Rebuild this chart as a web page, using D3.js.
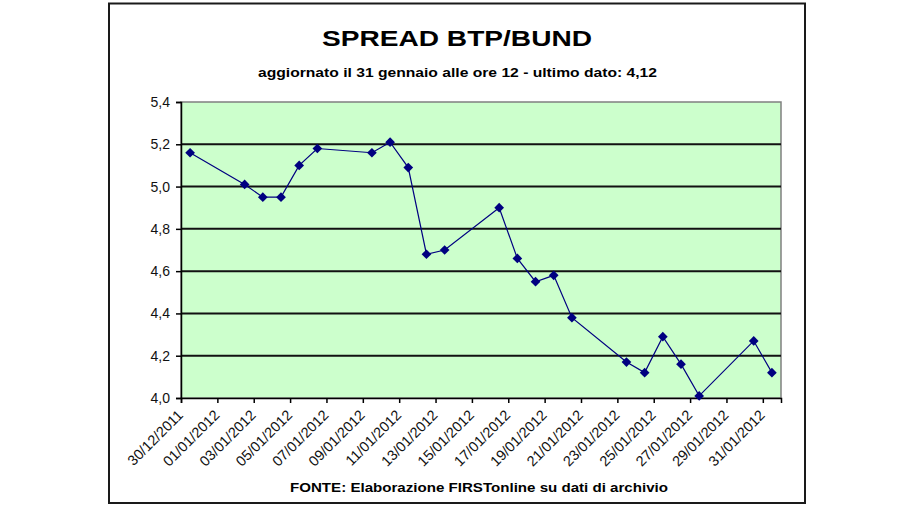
<!DOCTYPE html>
<html>
<head>
<meta charset="utf-8">
<script src="https://cdn.jsdelivr.net/npm/d3@7"></script>
<style>
  html, body { margin: 0; padding: 0; background: #ffffff; }
  svg { display: block; font-family: Arial, "Liberation Sans", sans-serif; }
</style>
</head>
<body>
<svg id="chart" width="920" height="510"></svg>
<script>
// ---- data ----
const title = "SPREAD BTP/BUND";
const subtitle = "aggiornato il 31 gennaio alle ore 12 - ultimo dato: 4,12";
const footer = "FONTE: Elaborazione FIRSTonline su dati di archivio";

const dates = ["30/12/2011","02/01/2012","03/01/2012","04/01/2012","05/01/2012","06/01/2012",
  "09/01/2012","10/01/2012","11/01/2012","12/01/2012","13/01/2012",
  "16/01/2012","17/01/2012","18/01/2012","19/01/2012","20/01/2012",
  "23/01/2012","24/01/2012","25/01/2012","26/01/2012","27/01/2012",
  "30/01/2012","31/01/2012"];
const values = [5.16, 5.01, 4.95, 4.95, 5.10, 5.18,
  5.16, 5.21, 5.09, 4.68, 4.70,
  4.90, 4.66, 4.55, 4.58, 4.38,
  4.17, 4.12, 4.29, 4.16, 4.01,
  4.27, 4.12];

const xTickLabels = ["30/12/2011","01/01/2012","03/01/2012","05/01/2012","07/01/2012","09/01/2012",
  "11/01/2012","13/01/2012","15/01/2012","17/01/2012","19/01/2012","21/01/2012",
  "23/01/2012","25/01/2012","27/01/2012","29/01/2012","31/01/2012"];
const yTicks = [4.0, 4.2, 4.4, 4.6, 4.8, 5.0, 5.2, 5.4];
const xDomain = ["30/12/2011", "01/02/2012"];
const yDomain = [4.0, 5.4];

// ---- drawing ----
const parse = d3.timeParse("%d/%m/%Y");
const svg = d3.select("#chart");

const plot = { left: 181, right: 781, top: 102, bottom: 398 };

const x = d3.scaleTime().domain(xDomain.map(parse)).range([plot.left, plot.right]);
const y = d3.scaleLinear().domain(yDomain).range([plot.bottom, plot.top]);

// outer frame
svg.append("rect").attr("x", 109).attr("y", 3.5).attr("width", 696).attr("height", 499.5)
  .attr("fill", "#ffffff").attr("stroke", "#1a1a1a").attr("stroke-width", 2);

// title texts
svg.append("text").attr("x", 322).attr("y", 46).attr("font-size", 22).attr("font-weight", "bold")
  .attr("textLength", 270).attr("lengthAdjust", "spacingAndGlyphs").attr("fill", "#000").text(title);
svg.append("text").attr("x", 258).attr("y", 77).attr("font-size", 12).attr("font-weight", "bold")
  .attr("textLength", 399).attr("lengthAdjust", "spacingAndGlyphs").attr("fill", "#000").text(subtitle);
svg.append("text").attr("x", 290).attr("y", 492).attr("font-size", 12.5).attr("font-weight", "bold")
  .attr("textLength", 378).attr("lengthAdjust", "spacingAndGlyphs").attr("fill", "#000").text(footer);

// plot area
svg.append("rect").attr("x", plot.left).attr("y", plot.top)
  .attr("width", plot.right - plot.left).attr("height", plot.bottom - plot.top)
  .attr("fill", "#ccffcc").attr("stroke", "#808080").attr("stroke-width", 1.5);

// gridlines
svg.append("g").selectAll("line").data(yTicks.filter(v => v > yDomain[0] && v < yDomain[1]))
  .join("line")
  .attr("x1", plot.left).attr("x2", plot.right)
  .attr("y1", d => y(d)).attr("y2", d => y(d))
  .attr("stroke", "#111").attr("stroke-width", 2);

// y axis
const yAxis = d3.axisLeft(y).tickValues(yTicks).tickSize(5).tickPadding(6)
  .tickFormat(d => d3.format(".1f")(d).replace(".", ","));
const gy = svg.append("g").attr("transform", `translate(${plot.left},0)`).call(yAxis);
gy.select(".domain").attr("stroke", "#000").attr("stroke-width", 1.5);
gy.selectAll(".tick line").attr("stroke", "#000").attr("stroke-width", 1.5);
gy.selectAll(".tick text").attr("font-size", 14).attr("fill", "#111")
  .attr("font-family", "Arial, 'Liberation Sans', sans-serif");

// x axis
const xTickDates = xTickLabels.map(parse);
const xAxis = d3.axisBottom(x).tickValues(xTickDates).tickSize(5).tickFormat("");
const gx = svg.append("g").attr("transform", `translate(0,${plot.bottom})`).call(xAxis);
gx.select(".domain").attr("stroke", "#000").attr("stroke-width", 1.5);
gx.selectAll(".tick line").attr("stroke", "#000").attr("stroke-width", 1.5);

svg.append("g").selectAll("text").data(xTickLabels).join("text")
  .attr("transform", d => `translate(${x(parse(d)) + 3},${plot.bottom + 18}) rotate(-45)`)
  .attr("text-anchor", "end").attr("font-size", 14.5).attr("fill", "#111")
  .text(d => d);

// series (points at mid-day, as in a date axis between tick marks)
const pts = dates.map((d, i) => ({ t: d3.timeHour.offset(parse(d), 12), v: values[i] }));
const line = d3.line().x(d => x(d.t)).y(d => y(d.v));
svg.append("path").datum(pts).attr("d", line)
  .attr("fill", "none").attr("stroke", "#000080").attr("stroke-width", 1.2);

const diamond = d3.symbol().type(d3.symbolDiamond2 || d3.symbolDiamond).size(60);
svg.append("g").selectAll("path").data(pts).join("path")
  .attr("transform", d => `translate(${x(d.t)},${y(d.v)})`)
  .attr("d", diamond).attr("fill", "#000080");
</script>
</body>
</html>
